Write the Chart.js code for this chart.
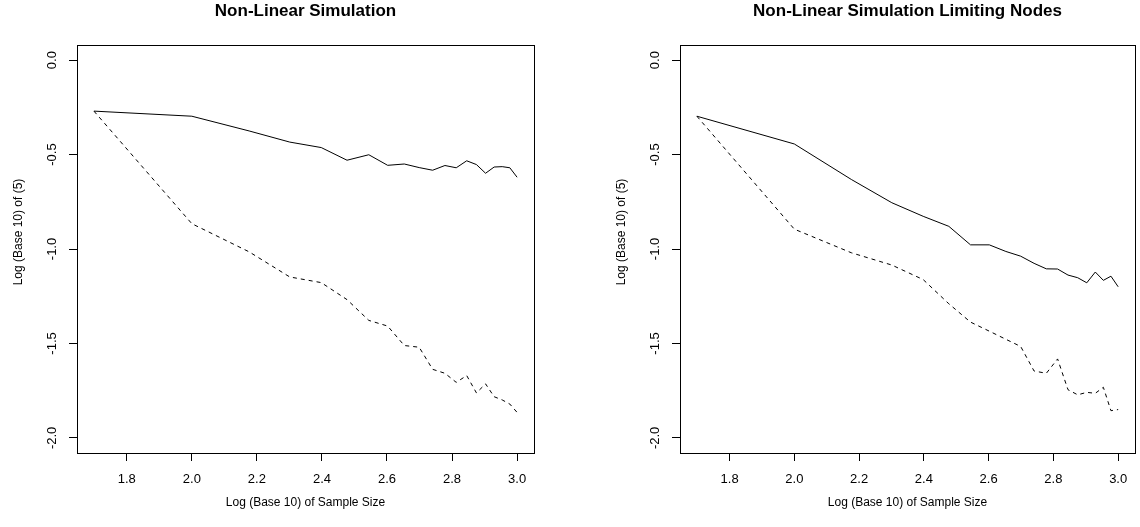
<!DOCTYPE html>
<html>
<head>
<meta charset="utf-8">
<title>Non-Linear Simulation</title>
<style>
*{padding:0;margin:0;box-sizing:border-box}
body{background:#fff;width:1140px;height:527px;overflow:hidden;position:relative}
.panel{position:absolute;top:0;width:570px;height:527px}
</style>
</head>
<body>
<div class="panel" style="left:0"><canvas id="left" width="570" height="527"></canvas></div>
<div class="panel" style="left:570px"><canvas id="right" width="570" height="527"></canvas></div>
<script src="https://cdn.jsdelivr.net/npm/chart.js"></script>
<script>
// sample sizes, plotted as log10
const sampleSizes = [50, 100, 150, 200, 250, 300, 350, 400, 450, 500, 550, 600, 650, 700, 750, 800, 850, 900, 950, 1000];
const xTicks = [1.8, 2.0, 2.2, 2.4, 2.6, 2.8, 3.0];
const yTicks = [0, -0.5, -1.0, -1.5, -2.0];

// left panel
const simSolid = [-0.270, -0.297, -0.375, -0.434, -0.463, -0.530, -0.501, -0.557, -0.550, -0.569, -0.583, -0.558, -0.570, -0.533, -0.553, -0.599, -0.566, -0.564, -0.570, -0.620];
const simDashed = [-0.270, -0.866, -1.015, -1.148, -1.178, -1.268, -1.378, -1.408, -1.511, -1.520, -1.637, -1.658, -1.706, -1.670, -1.762, -1.714, -1.782, -1.799, -1.821, -1.865];

// right panel
const limSolid = [-0.297, -0.444, -0.632, -0.755, -0.827, -0.880, -0.978, -0.978, -1.013, -1.038, -1.076, -1.105, -1.106, -1.138, -1.152, -1.179, -1.122, -1.166, -1.144, -1.200];
const limDashed = [-0.297, -0.895, -1.020, -1.085, -1.162, -1.290, -1.387, -1.435, -1.478, -1.516, -1.646, -1.658, -1.582, -1.745, -1.772, -1.759, -1.764, -1.732, -1.856, -1.850];

const xLabel = 'Log (Base 10) of Sample Size';
const yLabel = 'Log (Base 10) of (5)';

// R pads the data range by 4% on each side
const xLimits = [1.6469, 3.0520];
const yLimits = [-2.08, 0.08];

const family = '"Liberation Sans", Arial, sans-serif';
Chart.defaults.font.family = family;
Chart.defaults.color = '#000';

const toPoints = (vals) => sampleSizes.map((n, i) => ({ x: Math.log10(n), y: vals[i] }));

// box around plot region + rotated ylab (R style)
const rFrame = {
  id: 'rFrame',
  afterDatasetsDraw(chart) {
    const { ctx, chartArea: a } = chart;
    ctx.save();
    ctx.strokeStyle = '#000';
    ctx.lineWidth = 1;
    ctx.strokeRect(Math.round(a.left) + 0.5, Math.round(a.top) + 0.5, Math.round(a.width), Math.round(a.height));
    ctx.font = '12px ' + family;
    ctx.fillStyle = '#000';
    ctx.textAlign = 'center';
    ctx.textBaseline = 'middle';
    ctx.translate(a.left - 58, (a.top + a.bottom) / 2 - 17);
    ctx.rotate(-Math.PI / 2);
    ctx.fillText(yLabel, 0, 0);
    ctx.restore();
  },
};

function makeChart(id, title, solid, dashed, padLeft, padRight) {
  const ctx = document.getElementById(id).getContext('2d');
  return new Chart(ctx, {
    type: 'line',
    data: {
      datasets: [
        {
          data: toPoints(solid),
          borderColor: '#000',
          borderWidth: 1,
          pointRadius: 0,
          tension: 0,
        },
        {
          data: toPoints(dashed),
          borderColor: '#000',
          borderWidth: 1,
          borderDash: [4, 4],
          pointRadius: 0,
          tension: 0,
        },
      ],
    },
    options: {
      responsive: false,
      animation: false,
      events: [],
      layout: {
        padding: { left: padLeft, right: padRight, top: 0, bottom: 0 },
      },
      plugins: {
        legend: { display: false },
        tooltip: { enabled: false },
        title: {
          display: true,
          text: title,
          fullSize: false,
          color: '#000',
          font: { size: 17, weight: 'bold' },
          padding: { top: 1, bottom: 23.6 },
        },
      },
      scales: {
        x: {
          type: 'linear',
          min: xLimits[0],
          max: xLimits[1],
          afterBuildTicks: (s) => { s.ticks = xTicks.map(v => ({ value: v })); },
          afterFit: (s) => { s.height = 74; },
          grid: { drawOnChartArea: false, drawTicks: true, tickLength: 8, color: '#000' },
          border: { display: false },
          ticks: {
            font: { size: 13 },
            color: '#000',
            padding: 11,
            maxRotation: 0,
            autoSkip: false,
            callback: (v) => v.toFixed(1),
          },
          title: {
            display: true,
            text: xLabel,
            color: '#000',
            font: { size: 12 },
            padding: { top: 0, bottom: 17 },
          },
        },
        y: {
          type: 'linear',
          min: yLimits[0],
          max: yLimits[1],
          afterBuildTicks: (s) => { s.ticks = yTicks.map(v => ({ value: v })); },
          afterFit: (s) => { s.width = 77; },
          grid: { drawOnChartArea: false, drawTicks: true, tickLength: 8, color: '#000' },
          border: { display: false },
          ticks: {
            font: { size: 13 },
            color: '#000',
            padding: 5,
            minRotation: 90,
            maxRotation: 90,
            crossAlign: 'center',
            autoSkip: false,
            callback: (v) => v.toFixed(1),
          },
        },
      },
    },
    plugins: [rFrame],
  });
}

makeChart('left', 'Non-Linear Simulation', simSolid, simDashed, 0, 36);
makeChart('right', 'Non-Linear Simulation Limiting Nodes', limSolid, limDashed, 33, 5);
</script>
</body>
</html>
